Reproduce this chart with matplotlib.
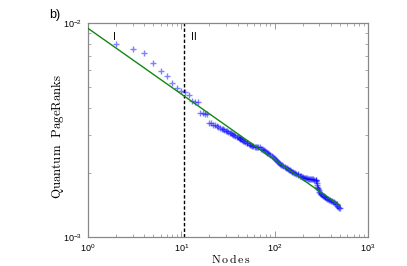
import matplotlib
matplotlib.use("Agg")
import matplotlib.pyplot as plt
from matplotlib.ticker import LogLocator, NullFormatter

plt.rcParams['font.family'] = ['Liberation Sans', 'DejaVu Sans']
plt.rcParams['mathtext.fontset'] = 'cm'

# Quantum PageRank of each node (sorted) (units of 1e-3)
node_rank = [2, 3, 4, 5, 6, 7, 8, 9, 10, 11, 12, 13, 14, 15, 16, 17, 18, 19,
             20, 21, 22, 23, 24, 25, 26, 27,
             28, 29, 30, 31, 32, 33, 34, 35, 36, 37, 38, 39, 40, 41, 42, 43,
             44, 45, 46, 47, 48, 50, 51, 53, 54, 56, 57, 59, 61, 63, 65, 67,
             69, 71, 73, 75, 77, 79, 81, 83, 85, 88, 90, 93, 95, 98, 100, 103,
             106, 109, 112, 115, 118, 121, 124, 128, 131, 135, 138, 142, 146,
             150, 154, 158, 162, 167, 171, 176, 180, 185, 190, 195, 200, 206,
             211, 217, 223, 229, 235, 241, 247, 254, 260, 267, 274, 278, 280,
             282, 284, 286, 289, 292, 296, 300, 305, 310, 316, 322, 328, 335,
             342, 350, 358, 366, 374, 383, 392, 401, 410, 420, 430, 440, 450,
             460, 470, 480, 490, 498]
pagerank_e3 = [7.93, 7.52, 7.20, 6.47, 5.97, 5.64, 5.25, 4.94, 4.82, 4.77,
               4.60, 4.33, 4.29, 4.27, 3.79, 3.78, 3.77, 3.76, 3.42, 3.39,
               3.35, 3.32, 3.29, 3.26, 3.24, 3.21,
               3.19, 3.16, 3.13, 3.11, 3.09, 3.07, 3.05, 3.03, 3.00, 2.98,
               2.96, 2.94, 2.93, 2.91, 2.89, 2.87, 2.86, 2.84, 2.82, 2.81,
               2.79, 2.76, 2.75, 2.72, 2.70, 2.68, 2.67, 2.65, 2.64, 2.64,
               2.63, 2.63, 2.62, 2.59, 2.57, 2.55, 2.54, 2.52, 2.50, 2.48,
               2.46, 2.43, 2.41, 2.38, 2.36, 2.34, 2.32, 2.29, 2.27, 2.24,
               2.22, 2.20, 2.18, 2.17, 2.15, 2.13, 2.11, 2.09, 2.08, 2.06,
               2.05, 2.03, 2.02, 2.01, 2.00, 1.98, 1.97, 1.96, 1.95, 1.93,
               1.92, 1.91, 1.90, 1.89, 1.885, 1.88, 1.88, 1.875, 1.87, 1.87,
               1.865, 1.86, 1.86, 1.855, 1.85, 1.85, 1.82, 1.78, 1.75, 1.72,
               1.70, 1.68, 1.66, 1.63, 1.60, 1.59, 1.58, 1.57, 1.56, 1.55,
               1.54, 1.53, 1.52, 1.51, 1.50, 1.49, 1.485, 1.48, 1.47, 1.46,
               1.45, 1.44, 1.43, 1.42, 1.40, 1.38, 1.37, 1.36]
pagerank = [v * 1e-3 for v in pagerank_e3]

# power-law fit endpoints
fit_x = [1, 500]
fit_y = [9.43e-3, 1.40e-3]

divider_x = 10.7
region_labels = ['I', 'II']
region_x = [1.9, 13.5]

fig = plt.figure(figsize=(4.07, 2.66), dpi=100)
ax = fig.add_axes([0.2162, 0.109, 0.688, 0.805])

ax.plot(node_rank, pagerank, linestyle='none', marker='+', color='#0000ff',
        alpha=0.5, markersize=3.7, markeredgewidth=1.0, zorder=3)
ax.plot(fit_x, fit_y, color='#118811', lw=1.0, zorder=4)
ax.axvline(divider_x, color='black', lw=1.0, linestyle=(0, (2.5, 1.5)), zorder=2)

ax.set_xscale('log')
ax.set_yscale('log')
ax.set_xlim(1, 1000)
ax.set_ylim(1e-3, 1e-2)

for i, lab in enumerate(region_labels):
    ax.text(region_x[i], 8.6e-3, lab, fontsize=7.5, ha='center', va='center')

ax.xaxis.set_major_locator(LogLocator(base=10, numticks=10))
ax.xaxis.set_minor_locator(LogLocator(base=10, subs=range(2, 10), numticks=10))
ax.yaxis.set_minor_locator(LogLocator(base=10, subs=range(2, 10), numticks=10))
ax.yaxis.set_minor_formatter(NullFormatter())
ax.xaxis.set_minor_formatter(NullFormatter())

frame = '#888888'
for s in ax.spines.values():
    s.set_color(frame)
    s.set_linewidth(0.9)
ax.tick_params(which='both', direction='in', top=True, right=True,
               colors=frame, labelcolor='black', labelsize=6.5)
ax.tick_params(which='major', length=4, width=0.6, pad=4)
ax.tick_params(which='minor', length=2, width=0.5)

ax.set_xlabel(r'$\mathrm{N\,o\,d\,e\,s}$', fontsize=8.5)
ax.set_ylabel(r'$\mathrm{Quantum\ \ PageRanks}$', fontsize=9.3)
ax.xaxis.label.set_va('center')
ax.yaxis.label.set_va('center')
ax.xaxis.set_label_coords(0.51, -(259.5 - 237) / 214)
ax.yaxis.set_label_coords(-(88 - 58) / 280, 0.47)

fig.text(49 / 407, 1 - 15 / 266, 'b)', fontsize=9, ha='left', va='center')

fig.savefig('out.png', dpi=100)
